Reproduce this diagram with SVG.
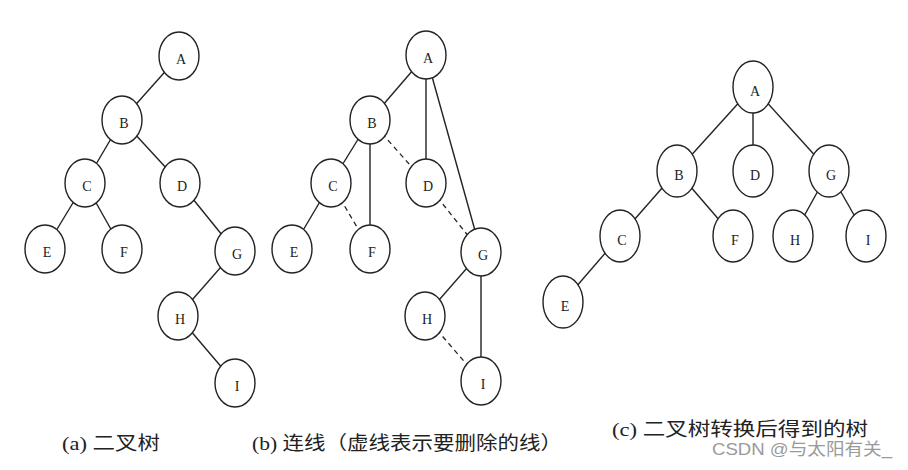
<svg xmlns="http://www.w3.org/2000/svg" width="908" height="470" viewBox="0 0 908 470">
<style>
.e{stroke:#222;stroke-width:1.4;fill:none}
.d{stroke:#222;stroke-width:1.3;fill:none;stroke-dasharray:5 4}
.n ellipse{fill:#fff;stroke:#222;stroke-width:1.4}
.n text{font-family:"Liberation Serif",serif;font-size:14px;fill:#222;text-anchor:middle}
.cap{font-family:"Liberation Serif","Noto Sans CJK SC",serif;font-size:19px;fill:#222}
.wm{font-family:"Liberation Sans","Noto Sans CJK SC",sans-serif;font-size:17px;fill:#9a9a9a}
</style>
<rect width="908" height="470" fill="#fff"/>
<g id="connectors">
<!-- panel a -->
<line class="e" x1="179" y1="56" x2="122" y2="120"/>
<line class="e" x1="122" y1="120" x2="85" y2="183"/>
<line class="e" x1="122" y1="120" x2="180" y2="183"/>
<line class="e" x1="85" y1="183" x2="45" y2="249"/>
<line class="e" x1="85" y1="183" x2="122" y2="249"/>
<line class="e" x1="180" y1="183" x2="235" y2="251"/>
<line class="e" x1="235" y1="251" x2="178" y2="316"/>
<line class="e" x1="178" y1="316" x2="235" y2="383"/>
<!-- panel b -->
<line class="e" x1="426" y1="55" x2="370" y2="120"/>
<line class="e" x1="426" y1="55" x2="426" y2="183"/>
<line class="e" x1="426" y1="55" x2="481" y2="252"/>
<line class="e" x1="370" y1="120" x2="331" y2="183"/>
<line class="e" x1="370" y1="120" x2="370" y2="249"/>
<line class="e" x1="331" y1="183" x2="292" y2="249"/>
<line class="e" x1="481" y1="252" x2="425" y2="316"/>
<line class="e" x1="481" y1="252" x2="481" y2="381"/>
<line class="d" x1="370" y1="120" x2="426" y2="183"/>
<line class="d" x1="331" y1="183" x2="370" y2="249"/>
<line class="d" x1="426" y1="183" x2="481" y2="252"/>
<line class="d" x1="425" y1="316" x2="481" y2="381"/>
<!-- panel c -->
<line class="e" x1="753" y1="87" x2="677" y2="171"/>
<line class="e" x1="753" y1="87" x2="753" y2="171"/>
<line class="e" x1="753" y1="87" x2="829" y2="171"/>
<line class="e" x1="677" y1="171" x2="620" y2="236"/>
<line class="e" x1="677" y1="171" x2="733" y2="236"/>
<line class="e" x1="829" y1="171" x2="793" y2="236"/>
<line class="e" x1="829" y1="171" x2="866" y2="236"/>
<line class="e" x1="620" y1="236" x2="563" y2="302"/>
</g>
<g id="a-A" class="n"><ellipse cx="179" cy="56" rx="20" ry="24"/><text x="181" y="64">A</text></g>
<g id="a-B" class="n"><ellipse cx="122" cy="120" rx="20" ry="24"/><text x="124" y="128">B</text></g>
<g id="a-C" class="n"><ellipse cx="85" cy="183" rx="20" ry="24"/><text x="87" y="191">C</text></g>
<g id="a-D" class="n"><ellipse cx="180" cy="183" rx="20" ry="24"/><text x="182" y="191">D</text></g>
<g id="a-E" class="n"><ellipse cx="45" cy="249" rx="20" ry="24"/><text x="47" y="257">E</text></g>
<g id="a-F" class="n"><ellipse cx="122" cy="249" rx="20" ry="24"/><text x="124" y="257">F</text></g>
<g id="a-G" class="n"><ellipse cx="235" cy="251" rx="20" ry="24"/><text x="237" y="259">G</text></g>
<g id="a-H" class="n"><ellipse cx="178" cy="316" rx="20" ry="24"/><text x="180" y="324">H</text></g>
<g id="a-I" class="n"><ellipse cx="235" cy="383" rx="20" ry="24"/><text x="237" y="391">I</text></g>

<g id="b-A" class="n"><ellipse cx="426" cy="55" rx="20" ry="24"/><text x="428" y="63">A</text></g>
<g id="b-B" class="n"><ellipse cx="370" cy="120" rx="20" ry="24"/><text x="372" y="128">B</text></g>
<g id="b-C" class="n"><ellipse cx="331" cy="183" rx="20" ry="24"/><text x="333" y="191">C</text></g>
<g id="b-D" class="n"><ellipse cx="426" cy="183" rx="20" ry="24"/><text x="428" y="191">D</text></g>
<g id="b-E" class="n"><ellipse cx="292" cy="249" rx="20" ry="24"/><text x="294" y="257">E</text></g>
<g id="b-F" class="n"><ellipse cx="370" cy="249" rx="20" ry="24"/><text x="372" y="257">F</text></g>
<g id="b-G" class="n"><ellipse cx="481" cy="252" rx="20" ry="24"/><text x="483" y="260">G</text></g>
<g id="b-H" class="n"><ellipse cx="425" cy="316" rx="20" ry="24"/><text x="427" y="324">H</text></g>
<g id="b-I" class="n"><ellipse cx="481" cy="381" rx="20" ry="24"/><text x="483" y="389">I</text></g>

<g id="c-A" class="n"><ellipse cx="753" cy="87" rx="20" ry="26"/><text x="755" y="96">A</text></g>
<g id="c-B" class="n"><ellipse cx="677" cy="171" rx="20" ry="26"/><text x="679" y="180">B</text></g>
<g id="c-D" class="n"><ellipse cx="753" cy="171" rx="20" ry="26"/><text x="755" y="180">D</text></g>
<g id="c-G" class="n"><ellipse cx="829" cy="171" rx="20" ry="26"/><text x="831" y="180">G</text></g>
<g id="c-C" class="n"><ellipse cx="620" cy="236" rx="20" ry="26"/><text x="622" y="245">C</text></g>
<g id="c-F" class="n"><ellipse cx="733" cy="236" rx="20" ry="26"/><text x="735" y="245">F</text></g>
<g id="c-H" class="n"><ellipse cx="793" cy="236" rx="20" ry="26"/><text x="795" y="245">H</text></g>
<g id="c-I" class="n"><ellipse cx="866" cy="236" rx="20" ry="26"/><text x="868" y="245">I</text></g>
<g id="c-E" class="n"><ellipse cx="563" cy="302" rx="20" ry="26"/><text x="565" y="311">E</text></g>

<g id="captions">
<text class="cap" x="62" y="450" textLength="98" lengthAdjust="spacingAndGlyphs">(a) 二叉树</text>
<text class="cap" x="252" y="450" textLength="310" lengthAdjust="spacingAndGlyphs">(b) 连线（虚线表示要删除的线）</text>
<text class="cap" x="612" y="436" textLength="256" lengthAdjust="spacingAndGlyphs">(c) 二叉树转换后得到的树</text>
<text class="wm" x="712" y="455" textLength="180" lengthAdjust="spacingAndGlyphs">CSDN @与太阳有关_</text>
</g>
</svg>
